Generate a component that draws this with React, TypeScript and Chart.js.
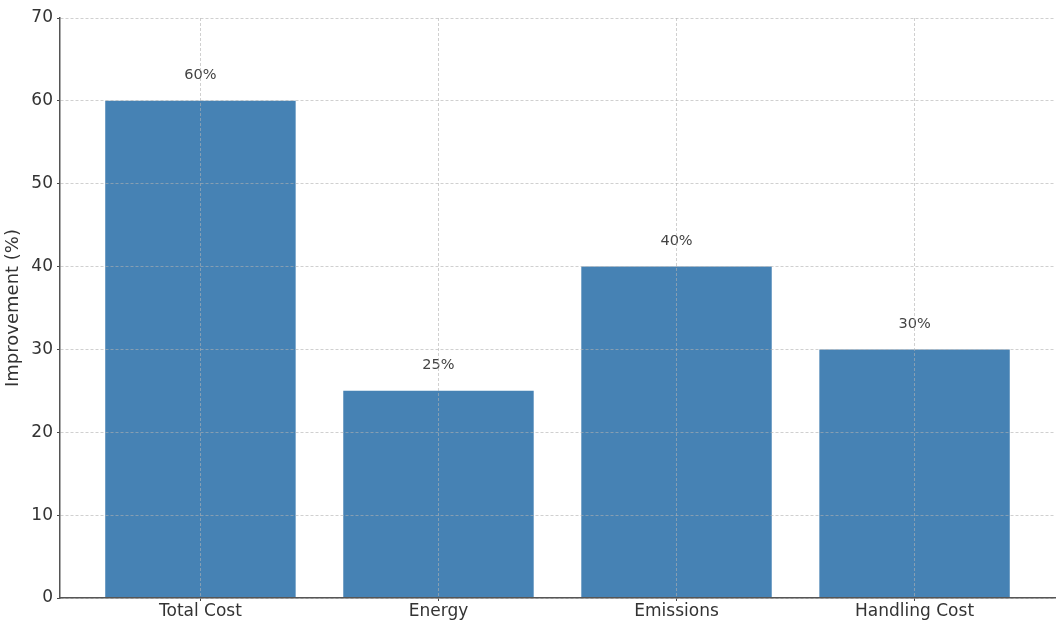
import React, { useEffect, useRef } from "react";
import { Chart, registerables } from "chart.js";

Chart.register(...registerables);

const categories = ["Total Cost", "Energy", "Emissions", "Handling Cost"];
const improvement = [60, 25, 40, 30];
const yTicks = [0, 10, 20, 30, 40, 50, 60, 70];

const FONT = "'DejaVu Sans', sans-serif";
const GRID = "rgba(176,176,176,0.6)";

const valueLabels = {
  id: "valueLabels",
  afterDatasetsDraw(chart: any) {
    const ctx = chart.ctx;
    const meta = chart.getDatasetMeta(0);
    ctx.save();
    ctx.font = `14.5px ${FONT}`;
    ctx.fillStyle = "#444";
    ctx.textAlign = "center";
    ctx.textBaseline = "middle";
    meta.data.forEach((bar: any, i: number) => {
      ctx.fillText(`${improvement[i]}%`, bar.x, bar.y - 25.5);
    });
    ctx.restore();
  },
};

export default function App() {
  const ref = useRef<HTMLCanvasElement>(null);
  useEffect(() => {
    if (!ref.current) return;
    const chart = new Chart(ref.current, {
      type: "bar",
      data: {
        datasets: [
          {
            data: improvement.map((v, i) => ({ x: i, y: v })),
            backgroundColor: "#4682B4",
            borderWidth: 0,
            barPercentage: 0.8,
            categoryPercentage: 1,
          },
        ],
      },
      options: {
        animation: false,
        responsive: false,
        maintainAspectRatio: false,
        layout: { padding: { left: 0, right: 8, top: 18, bottom: 0 } },
        plugins: { legend: { display: false }, tooltip: { enabled: false } },
        scales: {
          x: {
            type: "linear",
            min: -0.59,
            max: 3.59,
            offset: false,
            afterBuildTicks: (s: any) => {
              s.ticks = categories.map((_, i) => ({ value: i }));
            },
            afterFit: (s: any) => {
              s.height = 29;
            },
            grid: {
              z: 1,
              offset: false,
              color: GRID,
              tickLength: 3,
              tickColor: "#444",
              tickBorderDash: [],
              lineWidth: 1,
            },
            border: { display: true, color: "#555", width: 1.5, dash: [3, 2], z: 2 },
            ticks: {
              padding: 0,
              color: "#333",
              font: { family: FONT, size: 17 },
              callback: (v: any) => categories[v] ?? "",
              maxRotation: 0,
              autoSkip: false,
            },
          },
          y: {
            min: 0,
            max: 70,
            afterBuildTicks: (s: any) => {
              s.ticks = yTicks.map((v) => ({ value: v }));
            },
            afterFit: (s: any) => {
              s.width = 60;
            },
            grid: {
              z: 1,
              color: GRID,
              tickLength: 3,
              tickColor: "#444",
              tickBorderDash: [],
              lineWidth: 1,
            },
            border: { display: true, color: "#555", width: 1.5, dash: [3, 2], z: 2 },
            ticks: {
              padding: 4,
              color: "#333",
              font: { family: FONT, size: 17 },
            },
            title: {
              display: true,
              text: "Improvement (%)",
              color: "#333",
              font: { family: FONT, size: 18 },
              padding: { top: 3, bottom: 0 },
            },
          },
        },
      },
      plugins: [valueLabels],
    });
    return () => chart.destroy();
  }, []);
  return (
    <div style={{ position: "fixed", left: 0, top: 0, width: 1063, height: 627, background: "#fff" }}>
      <canvas ref={ref} width={1063} height={627} style={{ width: 1063, height: 627 }} />
    </div>
  );
}
